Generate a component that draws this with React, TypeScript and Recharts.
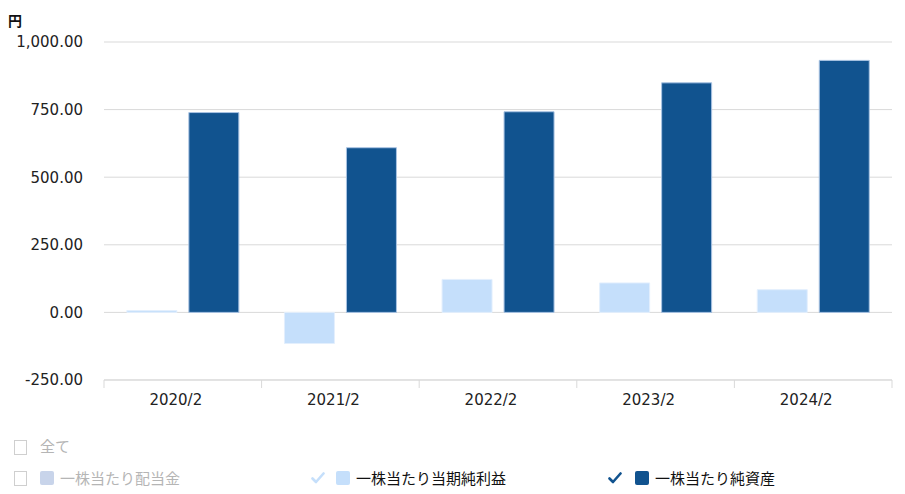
import { BarChart, Bar, XAxis, YAxis, CartesianGrid } from "recharts"

const periods = ["2020/2", "2021/2", "2022/2", "2023/2", "2024/2"]
const netIncomePerShare = [7, -115, 122, 109, 84]
const netAssetsPerShare = [739, 609, 742, 849, 932]
const yTicks = [-250, 0, 250, 500, 750, 1000]

const LIGHT = "#c5dffb"
const DARK = "#11538f"
const GRID = "#d9d9d9"
const FONT = "'DejaVu Sans', Verdana, sans-serif"
const JP_FONT = "'Noto Sans CJK JP', sans-serif"

const TICK_SIZE = 8
const TICK_MARGIN = 6

const rows = periods.map((p, i) => ({
  period: p,
  netIncome: netIncomePerShare[i],
  netAssets: netAssetsPerShare[i],
}))

const fmt = (v: number) =>
  v.toLocaleString("en-US", { minimumFractionDigits: 2, maximumFractionDigits: 2 })

// category label plus tick marks on the band edges instead of the centre
function PeriodTick(props: any) {
  const { x, y, payload, index } = props
  const half = payload.offset ?? 0
  const top = y - TICK_SIZE - TICK_MARGIN
  const bottom = y - TICK_MARGIN
  return (
    <g>
      <line x1={x - half} x2={x - half} y1={top} y2={bottom} stroke={GRID} />
      {index === periods.length - 1 && <line x1={x + half} x2={x + half} y1={top} y2={bottom} stroke={GRID} />}
      <text x={x - 7} y={y} dy="0.71em" textAnchor="middle" fill="#222" fontSize={15} fontFamily={FONT}>
        {payload.value}
      </text>
    </g>
  )
}

function Box({ left, top }: { left: number; top: number }) {
  return (
    <div
      style={{
        position: "absolute",
        left,
        top,
        width: 11,
        height: 13,
        border: "1px solid #cfcfcf",
        background: "#fff",
      }}
    />
  )
}

function Swatch({ left, top, color }: { left: number; top: number; color: string }) {
  return (
    <div
      style={{ position: "absolute", left, top, width: 14, height: 14, borderRadius: 2, background: color }}
    />
  )
}

function Check({ left, top, color }: { left: number; top: number; color: string }) {
  return (
    <svg style={{ position: "absolute", left, top }} width={14} height={14} viewBox="0 0 14 14">
      <path d="M1.5 7.5 L5 11 L12.5 2.5" fill="none" stroke={color} strokeWidth={2.6} strokeLinecap="round" strokeLinejoin="round" />
    </svg>
  )
}

function Label({ left, top, color, text }: { left: number; top: number; color: string; text: string }) {
  return (
    <span
      style={{
        position: "absolute",
        left,
        top,
        fontSize: 15,
        lineHeight: "16px",
        color,
        fontFamily: JP_FONT,
        whiteSpace: "nowrap",
      }}
    >
      {text}
    </span>
  )
}

export default function App() {
  return (
    <div style={{ position: "absolute", left: 0, top: 0, width: 905, height: 494, background: "#fff" }}>
      <div
        style={{
          position: "absolute",
          left: 8,
          top: 10,
          fontSize: 14,
          fontWeight: 700,
          fontFamily: JP_FONT,
          color: "#111",
        }}
      >
        円
      </div>

      <BarChart
        width={905}
        height={420}
        data={rows}
        margin={{ top: 42, right: 13, bottom: 10, left: 0 }}
        barCategoryGap="14.5%"
        barGap={12}
      >
        <CartesianGrid vertical={false} stroke={GRID} />
        <XAxis
          dataKey="period"
          height={30}
          axisLine={{ stroke: GRID }}
          tickLine={false}
          tickSize={TICK_SIZE}
          tickMargin={TICK_MARGIN}
          tick={<PeriodTick />}
        />
        <YAxis
          domain={[-250, 1000]}
          ticks={yTicks}
          width={104}
          axisLine={false}
          tickLine={false}
          tickSize={0}
          tickMargin={21}
          tickFormatter={fmt}
          tick={{ fill: "#222", fontSize: 15, fontFamily: FONT }}
        />
        <Bar dataKey="netIncome" fill={LIGHT} stroke="#e3effd" strokeWidth={1} isAnimationActive={false} />
        <Bar dataKey="netAssets" fill={DARK} stroke="#a9c3e3" strokeWidth={1} isAnimationActive={false} />
      </BarChart>

      <Box left={14} top={440} />
      <Label left={40} top={438} color="#b5b5b5" text="全て" />

      <Box left={14} top={471} />
      <Swatch left={40} top={471} color="#c8d4ea" />
      <Label left={60} top={470} color="#b5b5b5" text="一株当たり配当金" />

      <Check left={311} top={471} color={LIGHT} />
      <Swatch left={336} top={471} color={LIGHT} />
      <Label left={356} top={470} color="#111" text="一株当たり当期純利益" />

      <Check left={608} top={471} color={DARK} />
      <Swatch left={635} top={471} color={DARK} />
      <Label left={655} top={470} color="#111" text="一株当たり純資産" />
    </div>
  )
}
